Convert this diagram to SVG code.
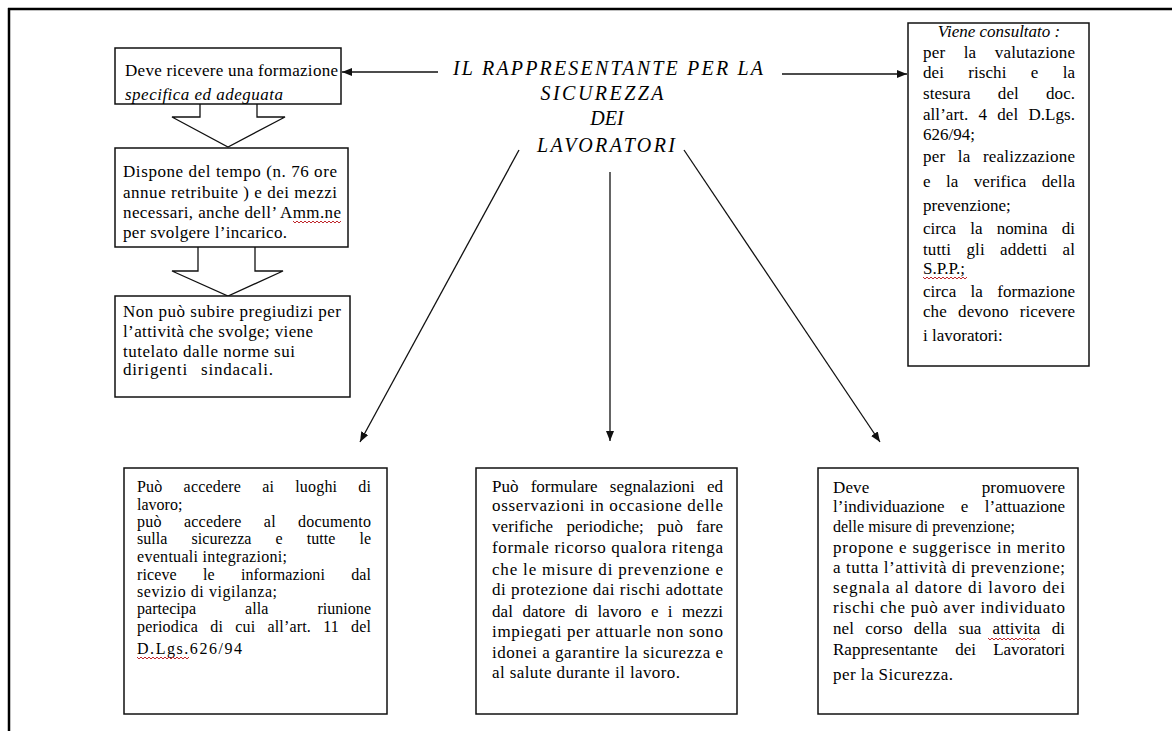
<svg xmlns="http://www.w3.org/2000/svg" width="1172" height="731" viewBox="0 0 1172 731">
<style>
.bg{fill:#fff}
.box{fill:#fff;stroke:#111;stroke-width:1.5}
.t{font-family:'Liberation Serif','Times New Roman',serif;font-size:17px;fill:#000}
.s16{font-size:16px}
.it{font-style:italic}
.title{font-family:'Liberation Serif','Times New Roman',serif;font-size:20px;font-style:italic;fill:#000;text-anchor:middle}
.conn{stroke:#111;stroke-width:1.3;fill:none;marker-end:url(#ah)}
.blk{fill:#fff;stroke:#111;stroke-width:1.3}
.wavy{stroke:#c0282d;stroke-width:1;fill:none}
.frame{stroke:#000;stroke-width:2.5;fill:none}
</style>
<defs>
<marker id="ah" viewBox="0 0 10 8" refX="10" refY="4" markerWidth="10" markerHeight="8" orient="auto" markerUnits="userSpaceOnUse">
<path d="M0,0 L10,4 L0,8 z" fill="#111"/>
</marker>
</defs>
<rect class="bg" x="0" y="0" width="1172" height="731"/>
<path class="frame" d="M8,9 H1172 M9,8 V731"/>

<g id="connectors">
<path class="conn" d="M438,72 L342,72"/>
<path class="conn" d="M782,74 L907,74"/>
<path class="conn" d="M519,150 L360,442"/>
<path class="conn" d="M610,172 L610,441"/>
<path class="conn" d="M684,150 L880,442"/>
<polyline class="blk" points="200,104 200,117 172,117 228,147 285,117 257,117 257,104"/>
<polyline class="blk" points="198,247 198,271 172,271 228,296 283,271 255,271 255,247"/>
</g>

<g id="title">
<text class="title" x="608" y="75" textLength="310" lengthAdjust="spacing">IL RAPPRESENTANTE PER LA</text>
<text class="title" x="602" y="100" textLength="123" lengthAdjust="spacing">SICUREZZA</text>
<text class="title" x="607" y="125">DEI</text>
<text class="title" x="606" y="152" textLength="138" lengthAdjust="spacing">LAVORATORI</text>
</g>

<g id="box-formazione">
<rect class="box" x="115" y="48" width="226" height="56"/>
<text class="t" x="125" y="76" textLength="213" lengthAdjust="spacing">Deve ricevere una formazione</text>
<text class="t it" x="125" y="100" textLength="158" lengthAdjust="spacing">specifica ed adeguata</text>
</g>

<g id="box-tempo">
<rect class="box" x="115" y="148" width="233" height="99"/>
<text class="t" x="123" y="177" textLength="214" lengthAdjust="spacing">Dispone del tempo (n. 76 ore</text>
<text class="t" x="123" y="198" textLength="214" lengthAdjust="spacing">annue retribuite ) e dei mezzi</text>
<text class="t" x="123" y="218" textLength="218" lengthAdjust="spacing">necessari, anche dell’ Amm.ne</text>
<text class="t" x="123" y="238" textLength="164" lengthAdjust="spacing">per svolgere l’incarico.</text>
<path class="wavy" d="M293,221 l2,2 l2,-2 l2,2 l2,-2 l2,2 l2,-2 l2,2 l2,-2 l2,2 l2,-2 l2,2 l2,-2 l2,2 l2,-2 l2,2 l2,-2 l2,2 l2,-2 l2,2 l2,-2 l2,2 l2,-2 l2,2 l2,-2"/>
</g>

<g id="box-pregiudizi">
<rect class="box" x="115" y="296" width="235" height="101"/>
<text class="t" x="123" y="317" textLength="218" lengthAdjust="spacing">Non può subire pregiudizi per</text>
<text class="t" x="123" y="337" textLength="190" lengthAdjust="spacing">l’attività che svolge; viene</text>
<text class="t" x="123" y="357" textLength="172" lengthAdjust="spacing">tutelato dalle norme sui</text>
<text class="t" x="123" y="375" word-spacing="8" textLength="150" lengthAdjust="spacing">dirigenti sindacali.</text>
</g>

<g id="box-consultato">
<rect class="box" x="908" y="23" width="181" height="343"/>
<text class="t it" x="999" y="37" text-anchor="middle">Viene consultato :</text>
<text class="t" x="923" y="58" word-spacing="14" textLength="152" lengthAdjust="spacing">per la valutazione</text>
<text class="t" x="923" y="78" word-spacing="20" textLength="152" lengthAdjust="spacing">dei rischi e la</text>
<text class="t" x="923" y="99" word-spacing="23" textLength="152" lengthAdjust="spacing">stesura del doc.</text>
<text class="t" x="923" y="120" word-spacing="6" textLength="152" lengthAdjust="spacing">all’art. 4 del D.Lgs.</text>
<text class="t" x="923" y="140">626/94;</text>
<text class="t" x="923" y="162" word-spacing="8" textLength="152" lengthAdjust="spacing">per la realizzazione</text>
<text class="t" x="923" y="187" word-spacing="11" textLength="152" lengthAdjust="spacing">e la verifica della</text>
<text class="t" x="923" y="211">prevenzione;</text>
<text class="t" x="923" y="234" word-spacing="10" textLength="152" lengthAdjust="spacing">circa la nomina di</text>
<text class="t" x="923" y="255" word-spacing="11" textLength="152" lengthAdjust="spacing">tutti gli addetti al</text>
<text class="t" x="923" y="274">S.P.P.;</text>
<path class="wavy" d="M923,277 l2,2 l2,-2 l2,2 l2,-2 l2,2 l2,-2 l2,2 l2,-2 l2,2 l2,-2 l2,2 l2,-2 l2,2 l2,-2 l2,2 l2,-2 l2,2 l2,-2 l2,2 l2,-2 l2,2 l2,-2"/>
<text class="t" x="923" y="297" word-spacing="10" textLength="152" lengthAdjust="spacing">circa la formazione</text>
<text class="t" x="923" y="317" word-spacing="7" textLength="152" lengthAdjust="spacing">che devono ricevere</text>
<text class="t" x="923" y="341">i lavoratori:</text>
</g>

<g id="box-accesso">
<rect class="box" x="124" y="468" width="263" height="246"/>
<text class="t s16" x="137" y="492" word-spacing="17" textLength="234" lengthAdjust="spacing">Può accedere ai luoghi di</text>
<text class="t s16" x="137" y="510">lavoro;</text>
<text class="t s16" x="137" y="527" word-spacing="18" textLength="234" lengthAdjust="spacing">può accedere al documento</text>
<text class="t s16" x="137" y="544" word-spacing="20" textLength="234" lengthAdjust="spacing">sulla sicurezza e tutte le</text>
<text class="t s16" x="137" y="562" textLength="150" lengthAdjust="spacing">eventuali integrazioni;</text>
<text class="t s16" x="137" y="580" word-spacing="22" textLength="234" lengthAdjust="spacing">riceve le informazioni dal</text>
<text class="t s16" x="137" y="597" textLength="140" lengthAdjust="spacing">sevizio di vigilanza;</text>
<text class="t s16" x="137" y="614" word-spacing="45" textLength="234" lengthAdjust="spacing">partecipa alla riunione</text>
<text class="t s16" x="137" y="632" word-spacing="8" textLength="234" lengthAdjust="spacing">periodica di cui all’art. 11 del</text>
<text class="t s16" x="137" y="654" textLength="105" lengthAdjust="spacing">D.Lgs.626/94</text>
<path class="wavy" d="M137,657 l2,2 l2,-2 l2,2 l2,-2 l2,2 l2,-2 l2,2 l2,-2 l2,2 l2,-2 l2,2 l2,-2 l2,2 l2,-2 l2,2 l2,-2 l2,2 l2,-2 l2,2 l2,-2 l2,2 l2,-2 l2,2 l2,-2 l2,2 l2,-2"/>
</g>

<g id="box-segnalazioni">
<rect class="box" x="476" y="468" width="261" height="246"/>
<text class="t" x="492" y="492" word-spacing="8" textLength="231" lengthAdjust="spacing">Può formulare segnalazioni ed</text>
<text class="t" x="492" y="511" textLength="231" lengthAdjust="spacing">osservazioni in occasione delle</text>
<text class="t" x="492" y="532" word-spacing="9" textLength="231" lengthAdjust="spacing">verifiche periodiche; può fare</text>
<text class="t" x="492" y="553" textLength="231" lengthAdjust="spacing">formale ricorso qualora ritenga</text>
<text class="t" x="492" y="575" textLength="231" lengthAdjust="spacing">che le misure di prevenzione e</text>
<text class="t" x="492" y="595" textLength="231" lengthAdjust="spacing">di protezione dai rischi adottate</text>
<text class="t" x="492" y="617" word-spacing="5" textLength="231" lengthAdjust="spacing">dal datore di lavoro e i mezzi</text>
<text class="t" x="492" y="637" textLength="231" lengthAdjust="spacing">impiegati per attuarle non sono</text>
<text class="t" x="492" y="658" textLength="231" lengthAdjust="spacing">idonei a garantire la sicurezza e</text>
<text class="t" x="492" y="678" textLength="188" lengthAdjust="spacing">al salute durante il lavoro.</text>
</g>

<g id="box-promuovere">
<rect class="box" x="818" y="468" width="260" height="246"/>
<text class="t" x="833" y="493" word-spacing="108" textLength="232" lengthAdjust="spacing">Deve promuovere</text>
<text class="t" x="833" y="512" word-spacing="12" textLength="232" lengthAdjust="spacing">l’individuazione e l’attuazione</text>
<text class="t" x="833" y="532" textLength="182" lengthAdjust="spacingAndGlyphs">delle misure di prevenzione;</text>
<text class="t" x="833" y="553" textLength="232" lengthAdjust="spacing">propone e suggerisce in merito</text>
<text class="t" x="833" y="573" textLength="232" lengthAdjust="spacing">a tutta l’attività di prevenzione;</text>
<text class="t" x="833" y="593" textLength="232" lengthAdjust="spacing">segnala al datore di lavoro dei</text>
<text class="t" x="833" y="613" textLength="232" lengthAdjust="spacing">rischi che può aver individuato</text>
<text class="t" x="833" y="634" word-spacing="7" textLength="232" lengthAdjust="spacing">nel corso della sua attivita di</text>
<path class="wavy" d="M988,638 l2,2 l2,-2 l2,2 l2,-2 l2,2 l2,-2 l2,2 l2,-2 l2,2 l2,-2 l2,2 l2,-2 l2,2 l2,-2 l2,2 l2,-2 l2,2 l2,-2 l2,2 l2,-2 l2,2 l2,-2 l2,2 l2,-2"/>
<text class="t" x="833" y="655" word-spacing="13" textLength="232" lengthAdjust="spacing">Rappresentante dei Lavoratori</text>
<text class="t" x="833" y="680" textLength="120" lengthAdjust="spacing">per la Sicurezza.</text>
</g>
</svg>
